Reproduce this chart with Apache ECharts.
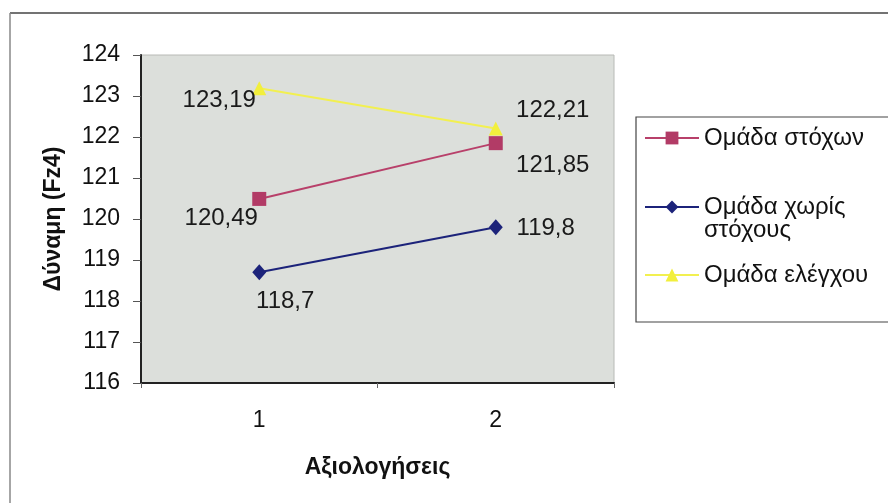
<!DOCTYPE html>
<html>
<head>
<meta charset="utf-8">
<script src="https://cdn.jsdelivr.net/npm/echarts@6/dist/echarts.min.js"></script>
<style>html,body{margin:0;padding:0;background:#fff;}#c{width:888px;height:503px;}</style>
</head>
<body>
<div id="c"></div>
<script>
const categories = ['1', '2'];
const seriesNames = ['Ομάδα στόχων', 'Ομάδα χωρίς στόχους', 'Ομάδα ελέγχου'];
const targetGroup = [120.49, 121.85];
const noTargetGroup = [118.7, 119.8];
const controlGroup = [123.19, 122.21];
const yTicks = [116, 117, 118, 119, 120, 121, 122, 123, 124];

const FONT = 'Liberation Sans, Arial, sans-serif';
const fmt = v => String(v).replace('.', ',');

function pts(values, offsets) {
  return values.map((v, i) => ({
    value: v,
    label: { offset: offsets[i] }
  }));
}

const chart = echarts.init(document.getElementById('c'), null, { renderer: 'canvas' });
const labelBase = {
  show: true, position: 'inside', color: '#1a1a1a',
  fontFamily: FONT, fontSize: 24,
  formatter: p => fmt(p.value)
};
const legendCommon = {
  orient: 'vertical', left: 644, padding: 0,
  itemWidth: 54, itemHeight: 16,
  textStyle: { fontFamily: FONT, fontSize: 24, color: '#111', lineHeight: 23 }
};
chart.setOption({
  animation: false,
  backgroundColor: '#fff',
  graphic: [
    { type: 'line', shape: { x1: 10, y1: 13, x2: 888, y2: 13 }, style: { stroke: '#444', lineWidth: 1.5 } },
    { type: 'line', shape: { x1: 10, y1: 13, x2: 10, y2: 503 }, style: { stroke: '#888', lineWidth: 1.5 } },
    { type: 'rect', shape: { x: 636, y: 117, width: 270, height: 205 }, style: { fill: '#fff', stroke: '#444', lineWidth: 1.2 }, z: -1 }
  ],
  legend: [
    Object.assign({}, legendCommon, { top: 126, data: [seriesNames[0]] }),
    Object.assign({}, legendCommon, { top: 172, data: [seriesNames[1]],
      formatter: n => ' \n' + n.replace(' στόχους', '\nστόχους') }),
    Object.assign({}, legendCommon, { top: 263, data: [seriesNames[2]] })
  ],
  grid: { left: 141, right: 274, top: 55, bottom: 120, show: true,
    backgroundColor: '#dcdfdb', borderColor: '#b8bab6', borderWidth: 1 },
  xAxis: {
    type: 'category', data: categories, boundaryGap: true,
    name: 'Αξιολογήσεις', nameLocation: 'middle', nameGap: 73,
    nameTextStyle: { fontFamily: FONT, fontSize: 23, fontWeight: 'bold', color: '#111' },
    axisLine: { lineStyle: { color: '#222', width: 2 } },
    axisTick: { show: true, length: 5, lineStyle: { color: '#666' } },
    axisLabel: { fontFamily: FONT, fontSize: 23, color: '#111', margin: 26 },
    splitLine: { show: false }
  },
  yAxis: {
    type: 'value', min: yTicks[0], max: yTicks[yTicks.length - 1], interval: 1,
    name: 'Δύναμη (Fz4)', nameLocation: 'middle', nameGap: 76, nameRotate: 90,
    nameTextStyle: { fontFamily: FONT, fontSize: 23, fontWeight: 'bold', color: '#111' },
    axisLine: { show: true, lineStyle: { color: '#222', width: 2 } },
    axisTick: { show: true, length: 8, lineStyle: { color: '#555' } },
    axisLabel: { fontFamily: FONT, fontSize: 23, color: '#111', margin: 21 },
    splitLine: { show: false }
  },
  series: [
    {
      name: seriesNames[0], type: 'line', data: pts(targetGroup, [[-38, 19], [57, 22]]),
      symbol: 'rect', symbolSize: 14,
      lineStyle: { color: '#b8406a', width: 2 }, itemStyle: { color: '#b23b66' },
      label: labelBase, z: 3
    },
    {
      name: seriesNames[1], type: 'line', data: pts(noTargetGroup, [[26, 29], [50, 1]]),
      symbol: 'diamond', symbolSize: [14, 16],
      lineStyle: { color: '#1c237a', width: 2 }, itemStyle: { color: '#1c237a' },
      label: labelBase, z: 3
    },
    {
      name: seriesNames[2], type: 'line', data: pts(controlGroup, [[-40, 12], [57, -18]]),
      symbol: 'triangle', symbolSize: 14,
      lineStyle: { color: '#f2f050', width: 2 }, itemStyle: { color: '#f2ef3c' },
      label: labelBase, z: 2
    }
  ]
});
</script>
</body>
</html>
